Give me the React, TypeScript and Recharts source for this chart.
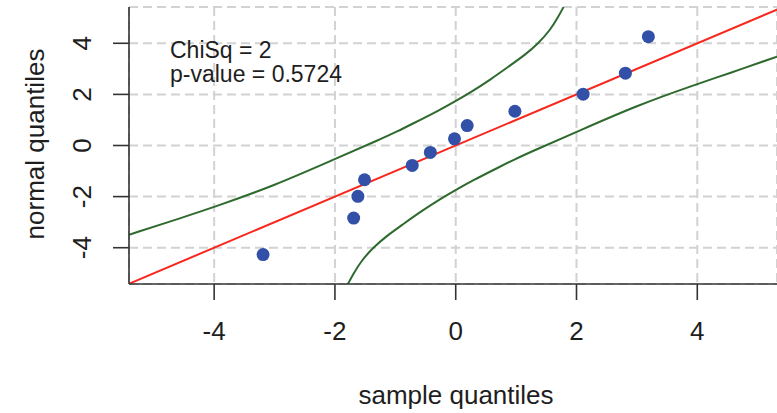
import React from "react";
import {
  CartesianGrid,
  ComposedChart,
  Line,
  Scatter,
  XAxis,
  YAxis,
} from "recharts";

// sample vs normal quantiles
const sampleQ = [-3.19, -1.69, -1.62, -1.51, -0.72, -0.42, -0.02, 0.19, 0.98, 2.11, 2.81, 3.19];
const normalQ = [-4.27, -2.84, -1.99, -1.34, -0.78, -0.27, 0.26, 0.78, 1.34, 2.01, 2.83, 4.26];

// confidence envelope, upper and lower
const upperX = [-5.41, -4.5, -4.0, -3.0, -2.0, -1.25, -0.96, -0.74, -0.27, 0.0, 0.24, 0.57, 0.9, 1.15, 1.37, 1.565, 1.7, 1.785];
const upperY = [-3.49, -2.8, -2.41, -1.57, -0.53, 0.24, 0.56, 0.82, 1.38, 1.74, 2.07, 2.57, 3.13, 3.55, 4.0, 4.52, 5.04, 5.42];
const lowerX = [-1.785, -1.7, -1.565, -1.37, -1.15, -0.9, -0.57, -0.24, 0.0, 0.27, 0.74, 0.96, 1.25, 2.0, 3.0, 4.0, 4.5, 5.32];
const lowerY = [-5.42, -5.04, -4.52, -4.0, -3.55, -3.13, -2.57, -2.07, -1.74, -1.38, -0.82, -0.56, -0.24, 0.53, 1.57, 2.41, 2.8, 3.48];

// reference line y = x across the panel
const refX = [-5.41, 5.32];
const refY = [-5.41, 5.32];

const ticks = [-4, -2, 0, 2, 4];
const xDomain: [number, number] = [-5.41, 5.32];
const yDomain: [number, number] = [-5.42, 5.42];

const chiSqLabel = "ChiSq = 2";
const pValueLabel = "p-value = 0.5724";

const pts = sampleQ.map((x, i) => ({ x, y: normalQ[i] }));
const upper = upperX.map((x, i) => ({ x, y: upperY[i] }));
const lower = lowerX.map((x, i) => ({ x, y: lowerY[i] }));
const refLine = refX.map((x, i) => ({ x, y: refY[i] }));

const FONT = "'Liberation Sans', Arial, Helvetica, sans-serif";
const AXIS = "#333333";
const TEXT = "#1e1e1e";

const XTick = (props: any) => (
  <text
    x={props.x}
    y={props.y + 31}
    textAnchor="middle"
    dominantBaseline="central"
    fontFamily={FONT}
    fontSize={26}
    fill={TEXT}
  >
    {props.payload.value}
  </text>
);

const YTick = (props: any) => (
  <text
    x={0}
    y={0}
    transform={`translate(${props.x - 31},${props.y}) rotate(-90)`}
    textAnchor="middle"
    dominantBaseline="central"
    fontFamily={FONT}
    fontSize={26}
    fill={TEXT}
  >
    {props.payload.value}
  </text>
);

const Dot = (props: any) => (
  <circle cx={props.cx} cy={props.cy} r={6.5} fill="#3350A8" />
);

export default function App() {
  return (
    <div style={{ position: "absolute", left: 0, top: 0, width: 777, height: 413, background: "#fff" }}>
      <ComposedChart
        width={777}
        height={413}
        margin={{ top: 7, right: 0, bottom: 0, left: 0 }}
      >
        <CartesianGrid
          stroke="#d2d2d2"
          strokeWidth={2}
          strokeDasharray="9 5"
          fill="none"
        />
        <XAxis
          dataKey="x"
          type="number"
          domain={xDomain}
          allowDataOverflow
          ticks={ticks}
          height={129}
          tickSize={16}
          tickMargin={0}
          tick={XTick}
          axisLine={{ stroke: AXIS, strokeWidth: 1.6 }}
          tickLine={{ stroke: AXIS, strokeWidth: 1.6 }}
          label={{
            content: () => (
              <text
                x={456}
                y={395}
                textAnchor="middle"
                dominantBaseline="central"
                fontFamily={FONT}
                fontSize={26}
                fill={TEXT}
              >
                sample quantiles
              </text>
            ),
          }}
        />
        <XAxis
          xAxisId="top"
          orientation="top"
          dataKey="x"
          type="number"
          domain={xDomain}
          allowDataOverflow
          height={0}
          tick={false}
          tickLine={false}
          axisLine={{ stroke: AXIS, strokeWidth: 1.6 }}
        />
        <YAxis
          dataKey="y"
          type="number"
          domain={yDomain}
          allowDataOverflow
          ticks={ticks}
          width={129}
          tickSize={16}
          tickMargin={0}
          tick={YTick}
          axisLine={{ stroke: AXIS, strokeWidth: 1.6 }}
          tickLine={{ stroke: AXIS, strokeWidth: 1.6 }}
          label={{
            content: () => (
              <g fontFamily={FONT} fill={TEXT}>
                <text
                  x={0}
                  y={0}
                  transform="translate(35,144) rotate(-90)"
                  textAnchor="middle"
                  dominantBaseline="central"
                  fontSize={26}
                >
                  normal quantiles
                </text>
                <text x={170} y={58} fontSize={23}>{chiSqLabel}</text>
                <text x={170} y={82} fontSize={23}>{pValueLabel}</text>
              </g>
            ),
          }}
        />
        <Line
          data={upper}
          dataKey="y"
          type="basis"
          stroke="#2E6A2E"
          strokeWidth={2}
          dot={false}
          activeDot={false}
          isAnimationActive={false}
        />
        <Line
          data={lower}
          dataKey="y"
          type="basis"
          stroke="#2E6A2E"
          strokeWidth={2}
          dot={false}
          activeDot={false}
          isAnimationActive={false}
        />
        <Line
          data={refLine}
          dataKey="y"
          type="linear"
          stroke="#F8261C"
          strokeWidth={2}
          dot={false}
          activeDot={false}
          isAnimationActive={false}
        />
        <Scatter data={pts} dataKey="y" shape={Dot} isAnimationActive={false} />
      </ComposedChart>
    </div>
  );
}
